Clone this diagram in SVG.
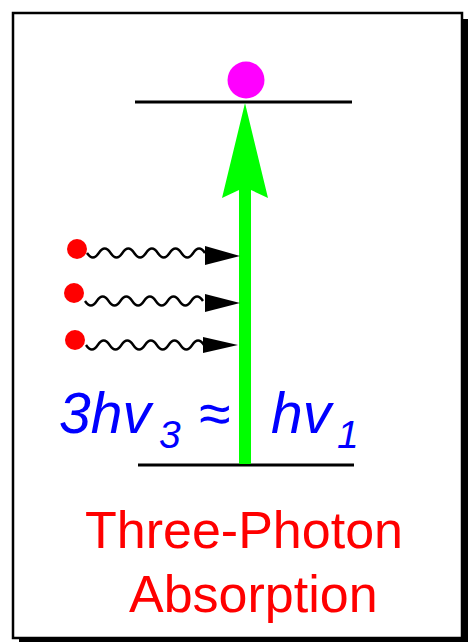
<svg xmlns="http://www.w3.org/2000/svg" width="471" height="643" viewBox="0 0 471 643">
<style>
.lvl{stroke:#000;stroke-width:3;fill:none}
.wave{stroke:#000;stroke-width:2.4;fill:none}
.photon{fill:#ff0000}
.head{fill:#000}
.eq{font-family:"Liberation Sans",Arial,sans-serif;font-style:italic;fill:#0000ff;font-size:57px}
.sub{font-size:39px}
.lbl{font-family:"Liberation Sans",Arial,sans-serif;fill:#ff0000;font-size:52px}
</style>
<defs>
<path id="w" d="M0,0 q5.9,9 11.8,0 t11.8,0 t11.8,0 t11.8,0 t11.8,0 t11.8,0 t11.8,0 t11.8,0 t11.8,0 t11.8,0"/>
</defs>
<g id="frame">
<rect x="19" y="19" width="449" height="623" fill="#000"/>
<rect x="13" y="13" width="449" height="625" fill="#fff" stroke="#000" stroke-width="2.5"/>
</g>
<g id="levels">
<line class="lvl" x1="135" y1="102" x2="352" y2="102"/>
<line class="lvl" x1="138" y1="465" x2="354" y2="465"/>
</g>
<g id="connectors">
<g id="pump-arrow">
<rect x="239" y="188" width="12" height="276" fill="#00ff00"/>
<polygon points="245,103 268,198 251,190 239,190 222,198" fill="#00ff00"/>
</g>
<g id="photon-waves">
<use href="#w" class="wave" x="87" y="253"/>
<use href="#w" class="wave" x="85" y="301"/>
<use href="#w" class="wave" x="86" y="345"/>
<polygon class="head" points="205,246 240,256 205,265"/>
<polygon class="head" points="205,294 240,303 205,312"/>
<polygon class="head" points="203,337 238,345 203,353"/>
</g>
</g>
<g id="excited-electron">
<circle cx="246" cy="80" r="18.5" fill="#ff00ff"/>
</g>
<g id="photons">
<circle class="photon" cx="77" cy="249" r="10"/>
<circle class="photon" cx="74" cy="293" r="10"/>
<circle class="photon" cx="75" cy="340" r="10"/>
</g>
<g id="equation">
<text class="eq" x="59" y="433">3hv</text>
<text class="eq sub" x="159" y="448">3</text>
<text class="eq" x="199" y="433" style="font-style:normal">≈</text>
<text class="eq" x="271" y="433">hv</text>
<text class="eq sub" x="337" y="448">1</text>
</g>
<g id="label">
<text class="lbl" x="85" y="548">Three-Photon</text>
<text class="lbl" x="129" y="612">Absorption</text>
</g>
</svg>
